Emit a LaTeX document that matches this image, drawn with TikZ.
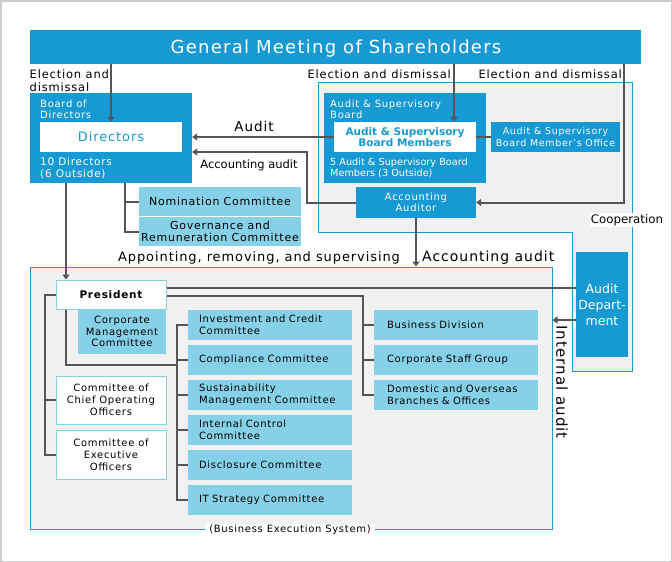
\documentclass[tikz,border=0pt]{standalone}
\usepackage{fontspec}
\setmainfont{DejaVu Sans}
\newfontfamily\vf[LetterSpace=7]{DejaVu Sans}
\newfontfamily\cf{DejaVu Sans}
\usetikzlibrary{arrows.meta}
\definecolor{dblue}{HTML}{1799D3}
\definecolor{lblue}{HTML}{87D1E8}
\definecolor{pgray}{HTML}{F1F1F1}
\definecolor{lgray}{HTML}{555555}
\definecolor{fgray}{HTML}{CCCCCC}
\newcommand\fs[2]{\fontsize{#1pt}{#2pt}\selectfont}
\tikzset{
 dbox/.style={fill=dblue, text=white, inner sep=0pt, align=center},
 lbox/.style={fill=lblue, text=black, inner sep=0pt, align=center},
 wbox/.style={fill=white, draw=lblue, line width=1pt, inner sep=0pt, align=center},
 cbox/.style={lbox, minimum width=164pt, minimum height=30pt, text width=142pt, align=left, font=\vf\fs{10}{11.7}},
 rbox/.style={lbox, minimum width=164pt, minimum height=30pt, text width=138pt, align=left, font=\vf\fs{10}{11.7}},
 con/.style={draw=lgray, line width=2pt},
 arr/.style={con, -{Triangle[width=7pt,length=5pt]}},
 lab/.style={inner sep=0pt, align=left},
}
\begin{document}
\begin{tikzpicture}[x=1pt,y=-1pt]
\useasboundingbox (0,0) rectangle (672,562);
\draw[fgray, line width=1.5pt] (0.75,0.75) rectangle (671.25,561.25);

% banner
\node[dbox, minimum width=611pt, minimum height=34pt] (gm) at (335.5,47) {};
\node[lab, text=white, font=\vf\fs{18}{20}] (gmt) at (336,48.5) {General Meeting of Shareholders};

% election labels
\node[lab, anchor=west, font=\vf\fs{11.5}{12.5}] (l1) at (29.5,80.5) {Election and\\dismissal};
\node[lab, anchor=east, font=\vf\fs{11.5}{12}] (l2) at (451,74.5) {Election and dismissal};
\node[lab, anchor=east, font=\vf\fs{11.5}{12}] (l3) at (622,74.5) {Election and dismissal};

% audit & supervisory panel
\draw[dblue, fill=pgray, line width=1pt] (318,82) -- (632,82) -- (632,371) -- (572,371) -- (572,232) -- (318,232) -- cycle;

% business execution panel
\node[draw=dblue, fill=pgray, line width=1pt, inner sep=0pt, minimum width=522pt, minimum height=262pt] (bes) at (291,398) {};

% board of directors
\node[dbox, minimum width=162pt, minimum height=90pt] (bod) at (111,138) {};
\node[fill=white, inner sep=0pt, minimum width=142pt, minimum height=30pt, text=dblue, font=\vf\fs{13}{14}] (dir) at (111,137) {Directors};
\node[lab, anchor=west, text=white, font=\vf\fs{10}{11}] (bodt) at (40,109) {Board of\\Directors};
\node[lab, anchor=west, text=white, font=\vf\fs{10.5}{12}] (bodn) at (40,168) {10 Directors\\(6 Outside)};

% audit & supervisory board
\node[dbox, minimum width=162pt, minimum height=90pt] (asb) at (405,138) {};
\node[fill=white, inner sep=0pt, minimum width=142pt, minimum height=30pt, text=dblue, align=center, font=\cf\bfseries\fs{10.5}{11.5}] (asbm) at (405,137) {Audit \& Supervisory\\Board Members};
\node[lab, anchor=west, text=white, font=\vf\fs{10}{10.8}] (asbt) at (330,109.5) {Audit \& Supervisory\\Board};
\node[lab, anchor=west, text=white, font=\cf\fs{9.7}{11.7}] (asbn) at (330,168) {5 Audit \& Supervisory Board\\Members (3 Outside)};
\node[dbox, minimum width=129pt, minimum height=30pt, font=\vf\fs{9.5}{11.3}] (off) at (555.5,137) {Audit \& Supervisory\\Board Member’s Office};
\node[dbox, minimum width=120pt, minimum height=31pt, font=\vf\fs{10}{11.3}] (aa) at (416,202.5) {Accounting\\Auditor};

% committees of the board
\node[lbox, minimum width=162pt, minimum height=29pt, font=\vf\fs{11}{11.7}] (nom) at (220,201.5) {Nomination Committee};
\node[lbox, minimum width=162pt, minimum height=29pt, font=\vf\fs{11}{11.7}] (gov) at (220,231.5) {Governance and\\Remuneration Committee};

% audit department
\node[dbox, minimum width=52pt, minimum height=105pt, font=\cf\fs{12.5}{16}] (ad) at (602,304.5) {Audit\\Depart-\\ment};

% business execution
\node[wbox, minimum width=110pt, minimum height=29pt, font=\vf\bfseries\fs{10.5}{12}] (pres) at (111,294.5) {President};
\node[lbox, minimum width=88pt, minimum height=45pt, font=\vf\fs{10}{11.8}] (cmc) at (122,331.5) {Corporate\\Management\\Committee};
\node[wbox, minimum width=110pt, minimum height=48pt, font=\vf\fs{10}{11.8}] (coo) at (111,400) {Committee of\\Chief Operating\\Officers};
\node[wbox, minimum width=110pt, minimum height=49pt, font=\vf\fs{10}{11.8}] (eo) at (111,454.5) {Committee of\\Executive\\Officers};

\node[cbox] (inv) at (270,325) {Investment and Credit\\Committee};
\node[cbox] (comp) at (270,360) {Compliance Committee};
\node[cbox] (sus) at (270,395) {Sustainability\\Management Committee};
\node[cbox] (ic) at (270,430) {Internal Control\\Committee};
\node[cbox] (disc) at (270,465) {Disclosure Committee};
\node[cbox] (it) at (270,500) {IT Strategy Committee};

\node[rbox] (bd) at (456,325) {Business Division};
\node[rbox] (csg) at (456,360) {Corporate Staff Group};
\node[rbox] (dom) at (456,395) {Domestic and Overseas\\Branches \& Offices};

% connectors
\coordinate (x2) at (454,0);
\coordinate (x3) at (624,0);
\draw[arr] (gm.south -| dir.north) -- (dir.north);
\draw[arr] (gm.south -| x2) -- (asbm.north -| x2);
\draw[arr] (gm.south -| x3) |- (aa.east);
\draw[arr] (asbm.west) -- (asbm.west -| bod.east);
\draw[arr] (aa.west) -- ++(-49,0) |- ([yshift=-14pt]bod.east);
\draw[con] (asbm.east) -- (off.west);
\draw[con] ([xshift=14pt]bod.south) |- (gov.west);
\draw[con] ([xshift=14pt]bod.south) |- (nom.west);
\draw[arr] ([xshift=-45pt]bod.south) -- ([xshift=-45pt]pres.north);
\draw[arr] (aa.south) -- (aa.south |- bes.north);
\draw[con] ([yshift=6.5pt]pres.east) -- ([yshift=6.5pt]pres.east -| ad.west);
\draw[con] ([yshift=-1.5pt]pres.east) -| ([xshift=-11pt]dom.west) -- (dom.west);
\draw[con] (bd.west) -- ++(-11,0);
\draw[con] (csg.west) -- ++(-11,0);
\draw[con] ([xshift=-45pt]pres.south) |- ([xshift=-11pt,yshift=-5pt]comp.west);
\draw[con] (inv.west) -- ++(-11,0) |- (it.west);
\foreach \n in {comp,sus,ic,disc} \draw[con] (\n.west) -- ++(-11,0);
\draw[con] (pres.west) -- ++(-11,0) |- (eo.west);
\draw[con] (coo.west) -- ++(-11,0);
\draw[arr] ([yshift=-15.5pt]ad.west) -- ([yshift=-15.5pt]ad.west -| bes.east);

% labels
\node[lab, font=\vf\fs{13.5}{14}] (laud) at (254,126) {Audit};
\node[lab, font=\cf\fs{11.5}{12}] (lacc1) at (249,165.5) {Accounting audit};
\node[lab, font=\vf\fs{13}{14}] (lapp) at (259,258) {Appointing, removing, and supervising};
\node[lab, anchor=west, font=\vf\fs{14}{15}] (lacc2) at (422,258) {Accounting audit};
\node[fill=white, inner sep=1pt, font=\cf\fs{11.8}{12}] (lcoop) at (627,220) {Cooperation};
\node[lab, rotate=-90, font=\vf\fs{15}{16}] (lint) at (562,382) {Internal audit};
\node[fill=white, inner xsep=4pt, inner ysep=1pt, font=\vf\fs{10}{11}] (lbes) at (290,529.5) {(Business Execution System)};
\end{tikzpicture}
\end{document}
